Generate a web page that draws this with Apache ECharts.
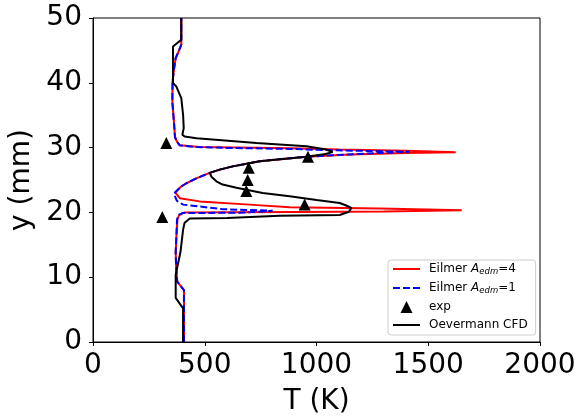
<!DOCTYPE html>
<html>
<head>
<meta charset="utf-8">
<script src="https://cdn.jsdelivr.net/npm/echarts@6/dist/echarts.min.js"></script>
<style>html,body{margin:0;padding:0;background:#fff;}#c{width:581px;height:417px;}</style>
</head>
<body>
<div id="c"></div>
<script>
// Eilmer A_edm = 4 (red)
const redT = [407, 407, 377, 372, 370, 374, 378, 385, 410, 900, 1300, 1650, 1283, 880, 700, 477, 388, 368, 395, 418, 465, 522, 567, 625, 746, 955, 1150, 1400, 1623, 1400, 1100, 880, 477, 388, 376, 367, 362, 355, 356, 362, 370, 385, 395, 395];
const redY = [0, 8.0, 9.3, 11.5, 13.8, 17.0, 18.9, 19.6, 20.0, 20.08, 20.15, 20.32, 20.6, 20.8, 21.2, 21.7, 22.2, 23.1, 24.0, 24.5, 25.3, 26.1, 26.6, 27.1, 27.9, 28.6, 28.95, 29.15, 29.3, 29.5, 29.7, 29.9, 30.1, 30.35, 30.9, 31.6, 34.0, 37.1, 40.2, 42.0, 43.8, 45.0, 45.9, 50];
// Eilmer A_edm = 1 (blue dashed)
const blueT = [407, 407, 377, 372, 370, 374, 376, 382, 400, 656, 804, 580, 403, 375, 362, 395, 418, 465, 522, 567, 625, 746, 955, 1150, 1300, 1417, 1200, 1000, 880, 600, 450, 388, 376, 367, 362, 355, 356, 362, 370, 385, 395, 395];
const blueY = [0, 8.0, 9.3, 11.5, 13.8, 17.0, 18.9, 19.6, 19.9, 19.95, 20.25, 20.5, 21.2, 21.8, 22.9, 24.0, 24.5, 25.3, 26.1, 26.6, 27.1, 27.9, 28.6, 28.95, 29.2, 29.35, 29.5, 29.65, 29.8, 29.95, 30.1, 30.35, 30.9, 31.6, 34.0, 37.1, 40.2, 42.0, 43.8, 45.0, 45.9, 50];
// Oevermann CFD (black)
const cfdT = [403, 403, 370, 370, 391, 403, 406, 410, 433, 600, 835, 1104, 1145, 1156, 1130, 1104, 1000, 880, 759, 642, 580, 552, 530, 522, 567, 625, 746, 955, 1040, 1072, 1044, 955, 731, 463, 410, 400, 406, 403, 395, 373, 358, 358, 395, 395];
const cfdY = [0, 5.2, 6.8, 10.4, 13.8, 17.3, 17.8, 18.4, 19.05, 19.15, 19.5, 19.6, 20.1, 20.7, 21.1, 21.45, 21.9, 22.5, 23.0, 23.8, 24.3, 24.8, 25.5, 26.1, 26.6, 27.1, 27.9, 28.6, 29.0, 29.3, 29.7, 30.2, 30.7, 31.45, 31.7, 32.0, 33.0, 35.1, 37.65, 39.4, 40.0, 45.6, 46.65, 50];
// experiment
const expT = [310, 947, 686, 692, 697, 962, 328];
const expY = [19.3, 21.2, 23.3, 25.0, 26.9, 28.6, 30.7];

const xTicks = [0, 500, 1000, 1500, 2000];
const yTicks = [0, 10, 20, 30, 40, 50];

const zip = (a, b) => a.map((v, i) => [v, b[i]]);
const FONT = 'DejaVu Sans';
const legendText = {
  A4: '{n|Eilmer }{i|A}{s|edm}{n|=4}',
  A1: '{n|Eilmer }{i|A}{s|edm}{n|=1}',
  exp: '{n|exp}',
  CFD: '{n|Oevermann CFD}'
};
const hiddenSym = {opacity: 0, color: 'rgba(0,0,0,0)', borderWidth: 0};

const chart = echarts.init(document.getElementById('c'), null, {renderer: 'canvas'});
const axisCommon = {
  type: 'value',
  axisLine: {show: true, onZero: false, lineStyle: {color: '#000', width: 1}},
  axisTick: {show: true, length: 4, inside: false, lineStyle: {color: '#000', width: 1}},
  splitLine: {show: false},
  nameLocation: 'middle',
  nameTextStyle: {fontSize: 28, fontFamily: FONT, color: '#000'}
};
chart.setOption({
  animation: false,
  backgroundColor: '#fff',
  grid: {left: 93, right: 41, top: 18, bottom: 75, show: true, borderColor: '#000', borderWidth: 1,
         backgroundColor: 'transparent', containLabel: false, outerBoundsMode: 'none'},
  xAxis: Object.assign({}, axisCommon, {
    min: xTicks[0], max: xTicks[xTicks.length - 1], interval: 500,
    name: 'T (K)', nameGap: 46,
    axisLabel: {fontSize: 28, fontFamily: FONT, color: '#000', margin: 10, formatter: v => String(v)}
  }),
  yAxis: Object.assign({}, axisCommon, {
    min: yTicks[0], max: yTicks[yTicks.length - 1], interval: 10,
    name: 'y (mm)', nameGap: 54,
    axisLabel: {fontSize: 28, fontFamily: FONT, color: '#000', margin: 11, formatter: v => String(v)}
  }),
  legend: {
    data: [
      {name: 'A4', itemStyle: hiddenSym},
      {name: 'A1', itemStyle: hiddenSym},
      {name: 'exp', icon: 'path://M0,12L6,0L12,12Z'},
      {name: 'CFD', itemStyle: hiddenSym}
    ],
    orient: 'vertical',
    left: 388, top: 260,
    padding: [3, 8, 4, 4],
    backgroundColor: '#fff',
    borderColor: '#ccc', borderWidth: 1, borderRadius: 3,
    itemWidth: 27, itemHeight: 12, itemGap: 6,
    symbolKeepAspect: true,
    formatter: n => legendText[n],
    textStyle: {
      fontSize: 12, fontFamily: FONT, color: '#000', padding: [0, 0, 0, 4],
      rich: {
        n: {fontSize: 12, fontFamily: FONT, color: '#000', lineHeight: 14},
        i: {fontSize: 12, fontFamily: FONT, fontStyle: 'italic', color: '#000', lineHeight: 14},
        s: {fontSize: 8.5, fontFamily: FONT, fontStyle: 'italic', color: '#000', verticalAlign: 'bottom', padding: [5, 0, 0, 0]}
      }
    }
  },
  series: [
    {name: 'A4', type: 'line', data: zip(redT, redY), symbol: 'none', smooth: false,
     lineStyle: {color: '#ff0000', width: 2}, itemStyle: {color: '#ff0000'}},
    {name: 'A1', type: 'line', data: zip(blueT, blueY), symbol: 'none', smooth: false,
     lineStyle: {color: '#0000ff', width: 2, type: [7, 3]}, itemStyle: {color: '#0000ff'}},
    {name: 'exp', type: 'scatter', data: zip(expT, expY), symbol: 'triangle', symbolSize: 12,
     itemStyle: {color: '#000', opacity: 1}, z: 4},
    {name: 'CFD', type: 'line', data: zip(cfdT, cfdY), symbol: 'none', smooth: false,
     lineStyle: {color: '#000', width: 2}, itemStyle: {color: '#000'}, z: 3}
  ]
});
</script>
</body>
</html>
